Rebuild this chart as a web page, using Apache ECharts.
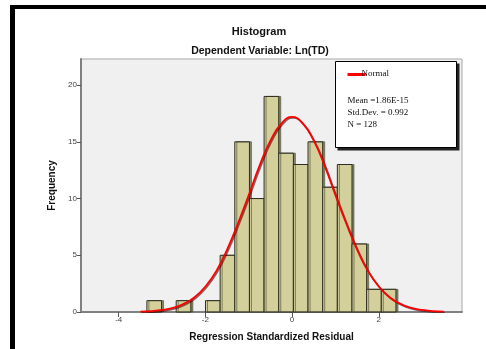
<!DOCTYPE html>
<html>
<head>
<meta charset="utf-8">
<script src="https://cdn.jsdelivr.net/npm/echarts@6/dist/echarts.min.js"></script>
<style>
  html, body { margin: 0; padding: 0; background: #fff; }
  #chart { width: 486px; height: 349px; }
</style>
</head>
<body>
<div id="chart"></div>
<script>
// histogram bins (left edge of first bin and bin width)
const binStart = -3.35;
const binWidth = 0.338;
const counts = [1, 0, 1, 0, 1, 5, 15, 10, 19, 14, 13, 15, 11, 13, 6, 2, 2];

// normal curve
const curveX = [-3.5, -3.25, -3, -2.75, -2.5, -2.25, -2, -1.75, -1.5, -1.25, -1, -0.75, -0.5, -0.25,
  0, 0.25, 0.5, 0.75, 1, 1.25, 1.5, 1.75, 2, 2.25, 2.5, 2.75, 3, 3.25, 3.5];
const curveY = [0.03, 0.08, 0.18, 0.37, 0.72, 1.3, 2.25, 3.6, 5.5, 7.8, 10.3, 12.9, 15.1, 16.6,
  17.2, 16.6, 15.1, 12.9, 10.3, 7.8, 5.5, 3.6, 2.25, 1.3, 0.72, 0.37, 0.18, 0.08, 0.03];

const xTicks = [-4, -2, 0, 2];
const yTicks = [0, 5, 10, 15, 20];

const statsLines = ['Mean =1.86E-15', 'Std.Dev. = 0.992', 'N = 128'];

const chart = echarts.init(document.getElementById('chart'));

const barData = counts.map((c, i) => [binStart + i * binWidth, binStart + (i + 1) * binWidth, c])
  .filter(d => d[2] > 0);

chart.setOption({
  animation: false,
  title: [
    {
      text: 'Histogram',
      left: 254, top: 21, textAlign: 'center',
      textStyle: { fontFamily: 'Liberation Sans', fontSize: 11, fontWeight: 'bold', color: '#111' }
    },
    {
      text: 'Dependent Variable: Ln(TD)',
      left: 255, top: 41, textAlign: 'center',
      textStyle: { fontFamily: 'Liberation Sans', fontSize: 10.5, fontWeight: 'bold', color: '#111' }
    }
  ],
  grid: {
    left: 81, right: 24, top: 59, bottom: 37,
    show: true, backgroundColor: '#f0f0f0', borderColor: '#a8a8a8', borderWidth: 1
  },
  xAxis: {
    type: 'value', min: -4.87, max: 3.92,
    name: 'Regression Standardized Residual',
    nameLocation: 'middle', nameGap: 20,
    nameTextStyle: { fontFamily: 'Liberation Sans', fontSize: 10, fontWeight: 'bold', color: '#111' },
    axisLine: { show: true, onZero: false, lineStyle: { color: '#808080', width: 2 } },
    axisTick: { show: true, customValues: xTicks, length: 5, lineStyle: { color: '#555' } },
    axisLabel: { customValues: xTicks, fontFamily: 'Liberation Sans', fontSize: 8, color: '#444', margin: 4 },
    splitLine: { show: false }
  },
  yAxis: {
    type: 'value', min: 0, max: 22.3,
    name: 'Frequency',
    nameLocation: 'middle', nameGap: 18, nameRotate: 90,
    nameTextStyle: { fontFamily: 'Liberation Sans', fontSize: 10, fontWeight: 'bold', color: '#111' },
    axisLine: { show: true, onZero: false, lineStyle: { color: '#808080', width: 2 } },
    axisTick: { show: true, customValues: yTicks, length: 4, lineStyle: { color: '#555' } },
    axisLabel: { customValues: yTicks, fontFamily: 'Liberation Sans', fontSize: 8, color: '#444', margin: 4 },
    splitLine: { show: false }
  },
  series: [
    {
      type: 'custom',
      data: barData,
      z: 2,
      renderItem: function (params, api) {
        const p0 = api.coord([api.value(0), 0]);
        const p1 = api.coord([api.value(1), api.value(2)]);
        return {
          type: 'rect',
          shape: { x: p0[0], y: p1[1], width: p1[0] - p0[0], height: p0[1] - p1[1] },
          style: {
            fill: '#d4d09c', stroke: '#2e2e22', lineWidth: 1,
            shadowColor: 'rgba(90,90,60,0.7)', shadowOffsetX: 2, shadowOffsetY: 0, shadowBlur: 0
          }
        };
      }
    },
    {
      type: 'line',
      data: curveX.map((x, i) => [x, curveY[i]]),
      smooth: true,
      showSymbol: false,
      z: 3,
      lineStyle: { color: '#ff0000', width: 1.8, shadowColor: 'rgba(60,0,0,0.6)', shadowOffsetX: 1, shadowOffsetY: 1 }
    }
  ],
  graphic: [
    // outer black frame (left and top)
    { type: 'rect', shape: { x: 10, y: 5, width: 5, height: 344 }, style: { fill: '#000' } },
    { type: 'rect', shape: { x: 10, y: 5, width: 476, height: 4 }, style: { fill: '#000' } },
    // legend / stats box
    {
      type: 'group', left: 335, top: 61, z: 10,
      children: [
        { type: 'rect', shape: { x: 2, y: 2, width: 122, height: 87 }, style: { fill: '#222' } },
        { type: 'rect', shape: { x: 0, y: 0, width: 121, height: 86 }, style: { fill: '#fff', stroke: '#000', lineWidth: 1 } },
        { type: 'line', shape: { x1: 12, y1: 13, x2: 30, y2: 13 }, style: { stroke: '#ff0000', lineWidth: 3 } },
        { type: 'text', x: 26, y: 8, style: { text: 'Normal', font: '9px "Liberation Serif"', fill: '#111' } },
        { type: 'text', x: 12, y: 33, style: { text: statsLines.join('\n'), font: '9px "Liberation Serif"', lineHeight: 12, fill: '#111' } }
      ]
    }
  ]
});
</script>
</body>
</html>
